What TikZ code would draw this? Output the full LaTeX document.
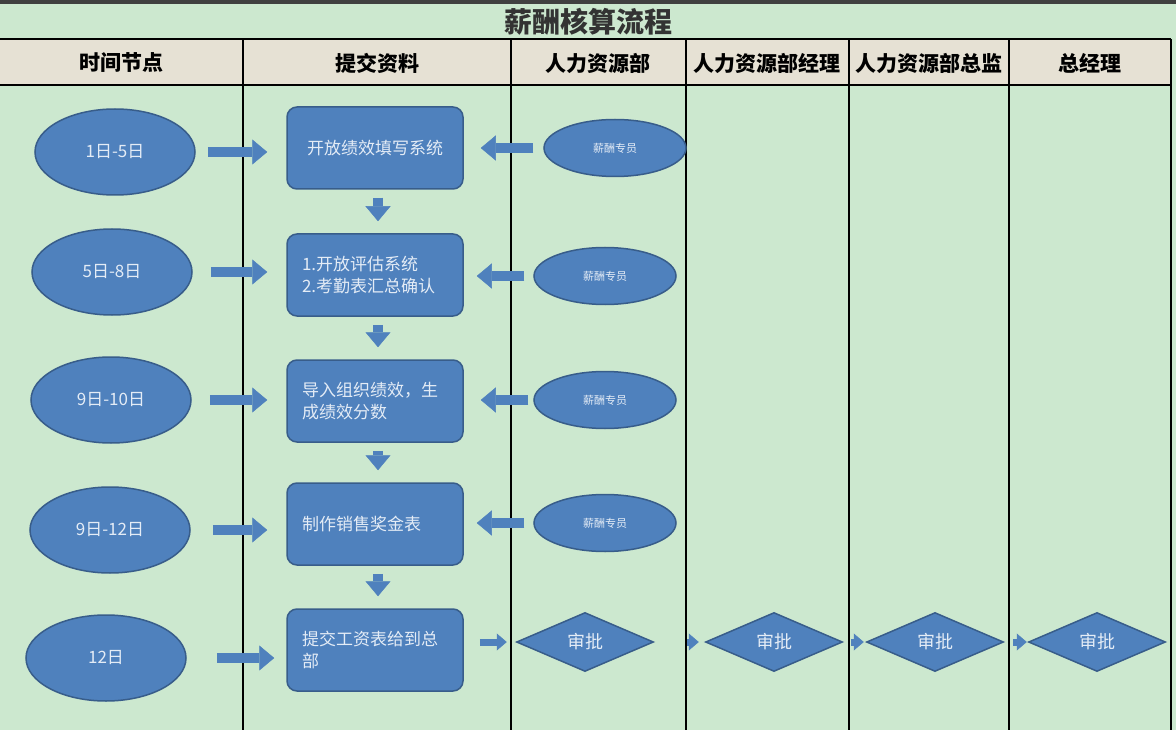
\documentclass[tikz,border=0pt]{standalone}
\usepackage{fontspec}
\setmainfont{Noto Sans CJK SC}
\usetikzlibrary{shapes.geometric,arrows.meta}

\definecolor{bggreen}{RGB}{204,232,207}
\definecolor{headbeige}{RGB}{230,225,212}
\definecolor{shapeblue}{RGB}{79,129,189}
\definecolor{shapeedge}{RGB}{56,93,138}
\definecolor{shapetext}{RGB}{228,236,246}

\tikzset{
  lane/.style={black, line width=2.5pt},
  headtext/.style={font=\fontsize{21}{24}\selectfont\bfseries, text=black},
  datenode/.style={ellipse, draw=shapeedge, line width=1.5pt, fill=shapeblue,
    minimum width=160pt, minimum height=86pt, inner sep=0pt,
    text=shapetext, font=\fontsize{17}{20}\selectfont},
  stepbox/.style={rectangle, rounded corners=10pt, draw=shapeedge, line width=1.5pt,
    fill=shapeblue, minimum width=176pt, minimum height=82pt, inner sep=0pt,
    text width=146pt, align=left, text=shapetext, font=\fontsize{17}{22}\selectfont},
  staffnode/.style={ellipse, draw=shapeedge, line width=1.5pt, fill=shapeblue,
    minimum width=142pt, minimum height=57pt, inner sep=0pt,
    text=shapetext, font=\fontsize{11}{13}\selectfont},
  approvenode/.style={diamond, draw=shapeedge, line width=1.5pt, fill=shapeblue,
    minimum width=137pt, minimum height=59pt, inner sep=0pt, aspect=2.3,
    text=shapetext, font=\fontsize{18}{20}\selectfont},
  flowarrow/.style={draw=shapeblue, line width=10pt,
    -{Triangle[width=25pt,length=15pt,line width=0.5pt,color=shapeblue]}},
  smallarrow/.style={draw=shapeblue, line width=7pt,
    -{Triangle[width=17pt,length=10pt,line width=0.5pt,color=shapeblue]}}
}

\begin{document}
\begin{tikzpicture}[x=1pt,y=-1pt]
  \useasboundingbox (0,0) rectangle (1176,730);
  % background, title and header rows
  \fill[bggreen] (0,0) rectangle (1176,730);
  \fill[black!75] (0,0) rectangle (1176,4);
  \fill[headbeige] (0,39) rectangle (1171,85);
  \node (title) at (588,22) {\fontsize{28}{30}\selectfont\bfseries\color{black!80}薪酬核算流程};
  \draw[lane] (0,39) -- (1171,39);
  \draw[lane] (0,85) -- (1171,85);
  \foreach \xx in {243,511,686,849,1009,1171}
    \draw[lane] (\xx,39) -- (\xx,730);

  \node[headtext] (h1) at (121,63) {时间节点};
  \node[headtext] (h2) at (377,63) {提交资料};
  \node[headtext] (h3) at (598,63) {人力资源部};
  \node[headtext] (h4) at (767,63) {人力资源部经理};
  \node[headtext] (h5) at (929,63) {人力资源部总监};
  \node[headtext] (h6) at (1090,63) {总经理};

  % time points
  \node[datenode] (date1) at (115,152) {1日-5日};
  \node[datenode] (date2) at (112,272) {5日-8日};
  \node[datenode] (date3) at (111,400) {9日-10日};
  \node[datenode] (date4) at (110,530) {9日-12日};
  \node[datenode] (date5) at (106,658) {12日};

  % steps
  \node[stepbox, align=center] (step1) at (375,148) {开放绩效填写系统};
  \node[stepbox] (step2) at (375,275) {1.开放评估系统\\2.考勤表汇总确认};
  \node[stepbox] (step3) at (375,401) {导入组织绩效，生\\成绩效分数};
  \node[stepbox] (step4) at (375,524) {制作销售奖金表};
  \node[stepbox] (step5) at (375,650) {提交工资表给到总\\部};

  % payroll staff
  \node[staffnode] (staff1) at (615,148) {薪酬专员};
  \node[staffnode] (staff2) at (605,276) {薪酬专员};
  \node[staffnode] (staff3) at (605,400) {薪酬专员};
  \node[staffnode] (staff4) at (605,523) {薪酬专员};

  % approvals
  \node[approvenode] (ok1) at (585,642) {审批};
  \node[approvenode] (ok2) at (774,642) {审批};
  \node[approvenode] (ok3) at (935,642) {审批};
  \node[approvenode] (ok4) at (1097,642) {审批};

  % arrows
  \draw[flowarrow, shorten <=12pt, shorten >=19pt] (date1.east) -- (date1.east -| step1.west);
  \draw[flowarrow, shorten <=18pt, shorten >=19pt] (date2.east) -- (date2.east -| step2.west);
  \draw[flowarrow, shorten <=18pt, shorten >=19pt] (date3.east) -- (date3.east -| step3.west);
  \draw[flowarrow, shorten <=22pt, shorten >=19pt] (date4.east) -- (date4.east -| step4.west);
  \draw[flowarrow, shorten <=30pt, shorten >=12pt] (date5.east) -- (date5.east -| step5.west);

  \draw[flowarrow, shorten <=10pt, shorten >=17pt] (staff1.west) -- (staff1.west -| step1.east);
  \draw[flowarrow, shorten <=9pt, shorten >=13pt] (staff2.west) -- (staff2.west -| step2.east);
  \draw[flowarrow, shorten <=5pt, shorten >=17pt] (staff3.west) -- (staff3.west -| step3.east);
  \draw[flowarrow, shorten <=9pt, shorten >=13pt] (staff4.west) -- (staff4.west -| step4.east);

  \draw[flowarrow, shorten <=8pt, shorten >=12pt] ([xshift=3pt]step1.south) -- ([xshift=3pt]step2.north);
  \draw[flowarrow, shorten <=8pt, shorten >=12pt] ([xshift=3pt]step2.south) -- ([xshift=3pt]step3.north);
  \draw[flowarrow, shorten <=8pt, shorten >=12pt] ([xshift=3pt]step3.south) -- ([xshift=3pt]step4.north);
  \draw[flowarrow, shorten <=8pt, shorten >=12pt] ([xshift=3pt]step4.south) -- ([xshift=3pt]step5.north);

  \draw[smallarrow, shorten <=16pt, shorten >=9pt] (step5.east |- ok1.west) -- (ok1.west);
  \draw[smallarrow, shorten <=33pt, shorten >=6pt] (ok1.east) -- (ok2.west);
  \draw[smallarrow, shorten <=8pt, shorten >=2pt] (ok2.east) -- (ok3.west);
  \draw[smallarrow, shorten <=9pt, shorten >=1pt] (ok3.east) -- (ok4.west);
\end{tikzpicture}
\end{document}
